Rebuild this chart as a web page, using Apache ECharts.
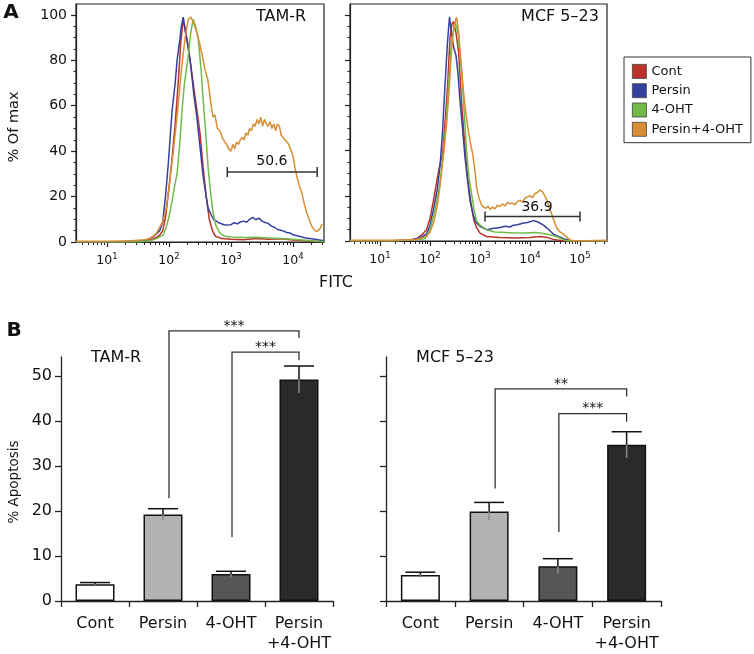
<!DOCTYPE html>
<html><head><meta charset="utf-8">
<script src="https://cdn.jsdelivr.net/npm/echarts@6/dist/echarts.min.js"></script>
<style>html,body{margin:0;padding:0;background:#fff}#c{width:754px;height:654px}</style>
</head><body><div id="c"></div>
<script>
// ---------- DATA ----------
const seriesNames = ['Cont', 'Persin', '4-OHT', 'Persin+4-OHT'];
// Histograms: [log10(FITC), % of max]
const tamCont = [[0.5,0],[1.2,0],[1.6,0.5],[1.7,1],[1.8,2],[1.85,3],[1.9,5],[1.95,12],[2.0,24],[2.05,37],[2.1,52],[2.13,63],[2.16,75],[2.19,88],[2.23,98],[2.26,94],[2.3,88],[2.35,78],[2.4,68],[2.45,58],[2.5,48],[2.55,33],[2.6,20],[2.65,10],[2.7,5],[2.75,2.5],[2.85,1.5],[3.0,1.2],[3.2,1],[3.4,1.5],[3.6,1.2],[3.8,1.4],[4.0,0.9],[4.2,0.5],[4.4,0.2],[4.5,0.1]];
const tamPersin = [[0.5,0],[1.2,0],[1.55,0.5],[1.65,1],[1.75,2.5],[1.85,5],[1.9,9],[1.95,22],[1.99,35],[2.05,58],[2.1,70],[2.13,80],[2.17,88],[2.2,95],[2.23,99],[2.26,93],[2.3,87],[2.35,78],[2.4,65],[2.45,55],[2.5,42],[2.55,29],[2.6,20],[2.63,15],[2.68,12],[2.72,10],[2.8,8.5],[2.9,7.5],[3.0,7.6],[3.05,8.5],[3.1,8],[3.15,8.8],[3.2,9.2],[3.25,8.7],[3.3,10],[3.35,10.8],[3.4,9.8],[3.45,10.5],[3.5,9.2],[3.55,8.6],[3.6,8.2],[3.65,7],[3.7,6.5],[3.75,5.5],[3.8,5.2],[3.85,4.8],[3.9,4.2],[3.95,4],[4.0,3.2],[4.1,2.5],[4.2,1.8],[4.3,1.4],[4.4,1],[4.5,0.6]];
const tamOHT = [[0.5,0],[1.5,0],[1.7,0.5],[1.8,1.5],[1.9,3],[1.95,6],[2.0,11],[2.05,18],[2.1,26],[2.13,30],[2.17,42],[2.21,58],[2.25,70],[2.31,82],[2.35,92],[2.39,98],[2.43,95],[2.47,90],[2.52,75],[2.55,63],[2.6,45],[2.63,33],[2.67,22],[2.71,13],[2.76,7],[2.82,4],[2.9,2.5],[3.0,2.2],[3.2,2],[3.4,2.1],[3.6,1.8],[3.8,1.5],[4.0,1.2],[4.2,0.8],[4.4,0.3],[4.5,0.2]];
const tamCombo = [[0.5,0.3],[1.0,0.3],[1.4,0.5],[1.6,1],[1.7,1.5],[1.8,4],[1.9,9],[1.95,14],[2.0,24],[2.07,40],[2.14,58],[2.2,76],[2.26,90],[2.31,98],[2.35,99],[2.39,97],[2.44,93],[2.49,88],[2.53,83],[2.58,76],[2.63,71],[2.67,62],[2.71,55],[2.74,56],[2.78,50],[2.82,49],[2.86,46],[2.9,44],[2.93,43],[2.96,41],[3.0,40],[3.03,43],[3.06,41],[3.09,44],[3.12,43],[3.15,45],[3.18,46],[3.21,45],[3.24,48],[3.27,47],[3.3,50],[3.33,49],[3.36,52],[3.39,51],[3.42,54],[3.45,52],[3.48,55],[3.51,51],[3.54,54],[3.57,52],[3.6,51],[3.63,53],[3.66,50],[3.69,52],[3.72,49],[3.75,52],[3.78,51],[3.81,47],[3.84,46],[3.87,45],[3.9,44],[3.93,43],[3.96,41],[4.0,38],[4.03,33],[4.06,29],[4.1,25],[4.14,22],[4.18,17],[4.22,13],[4.26,10],[4.3,7],[4.34,5.5],[4.38,4.5],[4.41,4],[4.44,6],[4.47,8]];

const mcfCont = [[0.4,0],[1.2,0],[1.6,0.5],[1.73,1],[1.85,3],[1.93,5],[2.0,10],[2.07,18],[2.14,27],[2.2,34],[2.25,38],[2.3,52],[2.35,68],[2.4,90],[2.44,96],[2.47,97],[2.52,92],[2.57,84],[2.63,62],[2.68,47],[2.73,33],[2.78,23],[2.83,15],[2.88,9],[2.93,6],[3.0,3.5],[3.13,2],[3.4,1.5],[3.7,1.3],[4.0,1.5],[4.2,2],[4.35,1.5],[4.5,0.5],[4.7,0],[5.54,0]];
const mcfPersin = [[0.4,0],[1.2,0],[1.6,0.3],[1.8,1.5],[1.93,3],[2.0,7],[2.07,14],[2.14,22],[2.2,33],[2.25,48],[2.3,69],[2.35,88],[2.39,99],[2.43,92],[2.47,86],[2.52,82],[2.56,74],[2.6,62],[2.65,50],[2.7,37],[2.75,27],[2.8,18],[2.87,11],[2.93,8],[3.0,6.5],[3.13,5],[3.25,5.5],[3.4,6],[3.5,6.5],[3.6,6.2],[3.67,7],[3.75,7.2],[3.87,8],[3.95,8.2],[4.07,9],[4.15,8.5],[4.27,7],[4.35,5.5],[4.47,3],[4.57,2],[4.67,1],[4.8,0.2],[5.54,0]];
const mcfOHT = [[0.4,0],[1.2,0],[1.7,0.5],[1.9,1],[2.0,5],[2.07,11],[2.14,18],[2.2,26],[2.27,40],[2.33,55],[2.38,72],[2.43,88],[2.5,97],[2.57,91],[2.62,78],[2.67,62],[2.73,40],[2.78,28],[2.83,21],[2.88,14],[2.93,9],[3.0,7],[3.13,5],[3.3,4],[3.5,3.8],[3.7,3.5],[3.9,3.5],[4.1,3.8],[4.2,3.5],[4.35,3],[4.53,2],[4.7,0.3],[4.8,0],[5.54,0]];
const mcfCombo = [[0.4,0.3],[1.2,0.3],[1.7,0.5],[1.93,2],[2.0,4],[2.07,8],[2.14,15],[2.2,24],[2.27,38],[2.33,51],[2.38,66],[2.43,84],[2.48,95],[2.53,99],[2.57,93],[2.6,84],[2.64,74],[2.67,66],[2.72,56],[2.77,48],[2.82,42],[2.85,39],[2.9,31],[2.93,24],[2.98,19],[3.03,16],[3.07,15],[3.12,14.5],[3.16,15.5],[3.2,14],[3.25,15],[3.3,14.2],[3.35,15.8],[3.4,15.2],[3.45,16.5],[3.5,15.5],[3.55,17],[3.6,16.5],[3.65,16.8],[3.7,16],[3.75,17.5],[3.8,18],[3.85,17.2],[3.9,19],[3.95,19.5],[4.0,20],[4.05,19.2],[4.1,21],[4.15,21.5],[4.2,22.5],[4.25,21.8],[4.28,22.5],[4.33,18.5],[4.38,15],[4.43,12],[4.48,9],[4.53,6],[4.6,4],[4.67,3],[4.75,1.5],[4.8,0.5],[4.9,0],[5.54,0.3]];

// gates: [from, to, level], label, label position
const tamGate = [2.94, 4.39, 30.8];
const tamGateLabel = '50.6';
const tamGateLabelPos = [3.66, 35.7];
const mcfGate = [3.1, 5.0, 10.8];
const mcfGateLabel = '36.9';
const mcfGateLabelPos = [4.14, 15];

// Tick labels (decades, log10)
const tamDecades = [1, 2, 3, 4];
const mcfDecades = [1, 2, 3, 4, 5];
const histYTicks = [0, 20, 40, 60, 80, 100];
const histYMinor = [5, 10, 15, 25, 30, 35, 45, 50, 55, 65, 70, 75, 85, 90, 95];

// Bar charts
const categories = ['Cont', 'Persin', '4-OHT', 'Persin\n+4-OHT'];
const tamMeans = [3.7, 19.2, 6.0, 49.2];
const tamErr = [0.4, 1.3, 0.6, 3.0];
const mcfMeans = [5.8, 19.9, 7.7, 34.7];
const mcfErr = [0.6, 2.0, 1.7, 2.9];
const barYTicks = [0, 10, 20, 30, 40, 50];
// brackets: [fromIdx, toIdx, level, leftLegEnd, rightLegEnd]
const tamBrackets = [[1, 3, 60.0, 22.8, 58.4], [2, 3, 55.3, 14.2, 53.5]];
const tamBracketLabels = ['***', '***'];
const mcfBrackets = [[1, 3, 47.1, 25.0, 45.4], [2, 3, 41.6, 15.3, 39.8]];
const mcfBracketLabels = ['**', '***'];

// ---------- STYLE ----------
const FONT = "'DejaVu Sans', 'Liberation Sans', Arial, sans-serif";
const lineColors = ['#bb3328', '#34409f', '#72bb4a', '#d88f33'];
const barColors = ['#ffffff', '#b3b3b3', '#565656', '#2a2a2a'];
const AX = '#222';

function minorTicks(min, max) {
  const out = [];
  for (let n = Math.floor(min); n <= Math.ceil(max); n++) {
    for (let k = 2; k <= 9; k++) {
      const v = n + Math.log10(k);
      if (v > min && v < max) out.push(v);
    }
  }
  return out;
}

function logXAxes(grid, min, max, majors) {
  return [
    {
      type: 'value', gridIndex: grid, min: min, max: max, position: 'bottom',
      axisLine: { show: true, onZero: false, lineStyle: { color: AX, width: 1.2 } },
      axisTick: { show: true, customValues: majors, length: 5, lineStyle: { color: AX, width: 1.2 } },
      axisLabel: {
        customValues: majors, margin: 10, fontSize: 12.5, color: '#111', fontFamily: FONT,
        formatter: v => '10{s|' + Math.round(v) + '}',
        rich: { s: { fontSize: 8.5, fontFamily: FONT, color: '#111', padding: [0, 0, 9, 0] } }
      },
      splitLine: { show: false }
    },
    {
      type: 'value', gridIndex: grid, min: min, max: max, position: 'bottom',
      axisLine: { show: false, onZero: false },
      axisTick: { show: true, customValues: minorTicks(min, max), length: 3, lineStyle: { color: AX, width: 1 } },
      axisLabel: { show: false }, splitLine: { show: false }
    }
  ];
}

function histYAxes(grid, showLabels) {
  return [
    {
      type: 'value', gridIndex: grid, min: 0, max: 104.8, position: 'left',
      axisLine: { show: true, onZero: false, lineStyle: { color: AX, width: 1.2 } },
      axisTick: { show: true, customValues: histYTicks, length: 5, lineStyle: { color: AX, width: 1.2 } },
      axisLabel: { show: showLabels, customValues: histYTicks, margin: 9, fontSize: 14, color: '#111', fontFamily: FONT },
      splitLine: { show: false }
    },
    {
      type: 'value', gridIndex: grid, min: 0, max: 104.8, position: 'left',
      axisLine: { show: false, onZero: false },
      axisTick: { show: true, customValues: histYMinor, length: 2.5, lineStyle: { color: AX, width: 1 } },
      axisLabel: { show: false }, splitLine: { show: false }
    }
  ];
}

function barYAxis(grid, showLabels) {
  return {
    type: 'value', gridIndex: grid, min: 0, max: 54.2,
    axisLine: { show: true, lineStyle: { color: AX, width: 1.3 } },
    axisTick: { show: true, customValues: barYTicks, length: 6, lineStyle: { color: AX, width: 1.3 } },
    axisLabel: { show: showLabels, customValues: barYTicks, margin: 9, fontSize: 16, color: '#111', fontFamily: FONT },
    splitLine: { show: false }
  };
}

function barXAxis(grid) {
  return {
    type: 'category', gridIndex: grid, data: categories,
    axisLine: { show: true, lineStyle: { color: AX, width: 1.3 } },
    axisTick: { show: true, alignWithLabel: false, length: 6, lineStyle: { color: AX, width: 1.3 } },
    axisLabel: { margin: 13, fontSize: 16, lineHeight: 20, color: '#111', fontFamily: FONT, interval: 0 }
  };
}

function histSeries(data, idx, xi, yi) {
  return {
    type: 'line', name: seriesNames[idx], data: data, xAxisIndex: xi, yAxisIndex: yi,
    showSymbol: false, symbol: 'none', smooth: false,
    lineStyle: { color: lineColors[idx], width: 1.5 }, itemStyle: { color: lineColors[idx] },
    animation: false, z: 3 + idx
  };
}

function gateSeries(gate, label, labelPos, xi, yi) {
  return {
    type: 'custom', xAxisIndex: xi, yAxisIndex: yi, clip: false, z: 10, silent: true,
    data: [[gate[0], gate[1], gate[2], labelPos[0], labelPos[1]]],
    renderItem: function (params, api) {
      const a = api.coord([api.value(0), api.value(2)]);
      const b = api.coord([api.value(1), api.value(2)]);
      const t = api.coord([api.value(3), api.value(4)]);
      const st = { stroke: '#333', lineWidth: 1.5 };
      return {
        type: 'group', children: [
          { type: 'line', shape: { x1: a[0], y1: a[1], x2: b[0], y2: b[1] }, style: st },
          { type: 'line', shape: { x1: a[0], y1: a[1] - 5, x2: a[0], y2: a[1] + 5 }, style: st },
          { type: 'line', shape: { x1: b[0], y1: b[1] - 5, x2: b[0], y2: b[1] + 5 }, style: st },
          { type: 'text', x: t[0], y: t[1], style: { text: label, fill: '#111', fontSize: 14, fontFamily: FONT, align: 'center', verticalAlign: 'middle' } }
        ]
      };
    }
  };
}

function barSeries(means, xi, yi) {
  return {
    type: 'bar', data: means, xAxisIndex: xi, yAxisIndex: yi, barWidth: 39,
    itemStyle: { color: p => barColors[p.dataIndex], borderColor: '#111', borderWidth: 1.5 },
    animation: false, z: 2
  };
}

function errSeries(means, errs, xi, yi) {
  return {
    type: 'custom', xAxisIndex: xi, yAxisIndex: yi, clip: false, z: 5, silent: true,
    data: means.map((m, i) => [i, m, errs[i]]),
    renderItem: function (params, api) {
      const x = api.value(0), m = api.value(1), e = api.value(2);
      const top = api.coord([x, m + e]), mid = api.coord([x, m]), bot = api.coord([x, m - e]);
      const cw = 15;
      return {
        type: 'group', children: [
          { type: 'line', shape: { x1: bot[0], y1: bot[1], x2: mid[0], y2: mid[1] }, style: { stroke: '#8a8a8a', lineWidth: 1.5 } },
          { type: 'line', shape: { x1: mid[0], y1: mid[1], x2: top[0], y2: top[1] }, style: { stroke: '#111', lineWidth: 1.5 } },
          { type: 'line', shape: { x1: top[0] - cw, y1: top[1], x2: top[0] + cw, y2: top[1] }, style: { stroke: '#111', lineWidth: 1.5 } }
        ]
      };
    }
  };
}

function bracketSeries(brackets, labels, xi, yi) {
  return {
    type: 'custom', xAxisIndex: xi, yAxisIndex: yi, clip: false, z: 6, silent: true,
    data: brackets,
    renderItem: function (params, api) {
      const i0 = api.value(0), i1 = api.value(1), lv = api.value(2), l0 = api.value(3), l1 = api.value(4);
      const shift = (i1 - i0) > 1 ? 6 : 1;
      const pL = api.coord([i0, lv]), pR = api.coord([i1, lv]);
      const eL = api.coord([i0, l0]), eR = api.coord([i1, l1]);
      const xl = pL[0] + shift, xr = pR[0];
      return {
        type: 'group', children: [
          { type: 'polyline', shape: { points: [[xl, eL[1]], [xl, pL[1]], [xr, pR[1]], [xr, eR[1]]] }, style: { stroke: '#333', lineWidth: 1.3, fill: null } },
          { type: 'text', x: (xl + xr) / 2, y: pL[1] - 5, style: { text: labels[params.dataIndex], fill: '#111', fontSize: 14, fontFamily: FONT, align: 'center', verticalAlign: 'middle' } }
        ]
      };
    }
  };
}

const chart = echarts.init(document.getElementById('c'), null, { renderer: 'canvas' });
const txt = (text, x, y, size, opts) => Object.assign({
  type: 'text', x: x, y: y,
  style: Object.assign({ text: text, fill: '#111', fontSize: size, fontFamily: FONT, align: 'center', verticalAlign: 'middle' }, (opts || {}).style || {})
}, opts && opts.rotation !== undefined ? { rotation: opts.rotation } : {});

chart.setOption({
  backgroundColor: '#ffffff',
  animation: false,
  textStyle: { fontFamily: FONT },
  grid: [
    { left: 76, top: 4, width: 248, height: 238, show: true, borderColor: '#222', borderWidth: 1.2, backgroundColor: 'transparent' },
    { left: 350, top: 4, width: 257, height: 237, show: true, borderColor: '#222', borderWidth: 1.2, backgroundColor: 'transparent' },
    { left: 61, top: 357, width: 272, height: 245 },
    { left: 386, top: 357, width: 275, height: 245 }
  ],
  xAxis: [].concat(
    logXAxes(0, 0.5, 4.5, tamDecades),
    logXAxes(1, 0.4, 5.54, mcfDecades),
    [barXAxis(2), barXAxis(3)]
  ),
  yAxis: [].concat(histYAxes(0, true), histYAxes(1, false), [barYAxis(2, true), barYAxis(3, false)]),
  legend: {
    data: seriesNames, left: 624, top: 57, orient: 'vertical', icon: 'rect',
    itemWidth: 14, itemHeight: 14, itemGap: 4.5, padding: [7, 8, 6, 8],
    borderColor: '#333', borderWidth: 1, selectedMode: false,
    itemStyle: { borderColor: '#444', borderWidth: 0.8 },
    textStyle: { fontSize: 13, color: '#111', fontFamily: FONT }
  },
  series: [
    histSeries(tamCont, 0, 0, 0), histSeries(tamPersin, 1, 0, 0), histSeries(tamOHT, 2, 0, 0), histSeries(tamCombo, 3, 0, 0),
    histSeries(mcfCont, 0, 2, 2), histSeries(mcfPersin, 1, 2, 2), histSeries(mcfOHT, 2, 2, 2), histSeries(mcfCombo, 3, 2, 2),
    gateSeries(tamGate, tamGateLabel, tamGateLabelPos, 0, 0),
    gateSeries(mcfGate, mcfGateLabel, mcfGateLabelPos, 2, 2),
    barSeries(tamMeans, 4, 4), errSeries(tamMeans, tamErr, 4, 4), bracketSeries(tamBrackets, tamBracketLabels, 4, 4),
    barSeries(mcfMeans, 5, 5), errSeries(mcfMeans, mcfErr, 5, 5), bracketSeries(mcfBrackets, mcfBracketLabels, 5, 5)
  ],
  graphic: [
    txt('A', 11, 13, 20, { style: { fontWeight: 'bold' } }),
    txt('B', 14, 331, 20, { style: { fontWeight: 'bold' } }),
    txt('TAM-R', 281, 17, 16),
    txt('MCF 5\u201323', 560, 17, 16),
    txt('FITC', 336, 283, 16),
    txt('% Of max', 14, 127, 14.5, { rotation: Math.PI / 2 }),
    txt('% Apoptosis', 14, 482, 13.5, { rotation: Math.PI / 2 }),
    txt('TAM-R', 116, 358, 16),
    txt('MCF 5\u201323', 455, 358, 16)
  ]
});
</script>
</body></html>
